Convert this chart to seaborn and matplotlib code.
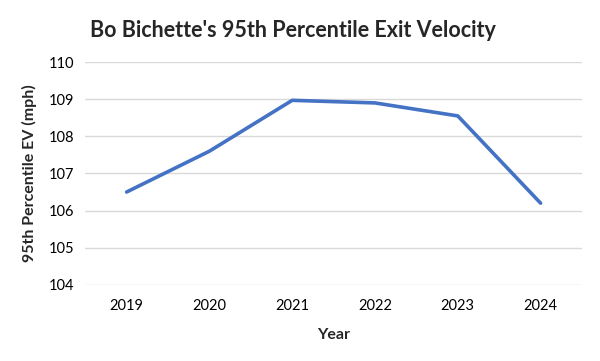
import matplotlib
matplotlib.use("Agg")
import matplotlib.pyplot as plt
import seaborn as sns
import pandas as pd

years = ["2019", "2020", "2021", "2022", "2023", "2024"]
ev95 = [106.5, 107.6, 108.97, 108.9, 108.55, 106.2]

sns.set_theme(style="whitegrid")
plt.rcParams["font.family"] = ["Lato", "DejaVu Sans"]

df = pd.DataFrame({"Year": years, "EV": ev95})

fig = plt.figure(figsize=(6, 3.61), dpi=100)
ax = fig.add_axes([0.142, 0.211, 0.828, 0.617])
sns.lineplot(data=df, x="Year", y="EV", ax=ax, color="#4472C4", linewidth=2.6, sort=False)

ax.set_xlim(-0.5, 5.5)
ax.set_ylim(104, 110)
ax.set_yticks(range(104, 111))
ax.grid(axis="y", color="#d9d9d9", linewidth=1)
ax.grid(axis="x", visible=False)
for s in ax.spines.values():
    s.set_visible(False)
ax.tick_params(axis="both", labelsize=10.5, colors="#000000", length=0)
ax.tick_params(axis="x", pad=10)
ax.tick_params(axis="y", pad=8)
ax.set_xlabel("Year", fontsize=11.5, fontweight="bold", labelpad=11)
ax.set_ylabel("95th Percentile EV (mph)", fontsize=11.5, fontweight="bold", labelpad=8)
fig.text(0.488, 0.915, "Bo Bichette's 95th Percentile Exit Velocity",
         ha="center", va="center", fontsize=15.5, fontweight="bold")

fig.savefig("out.png", dpi=100, facecolor="white")
